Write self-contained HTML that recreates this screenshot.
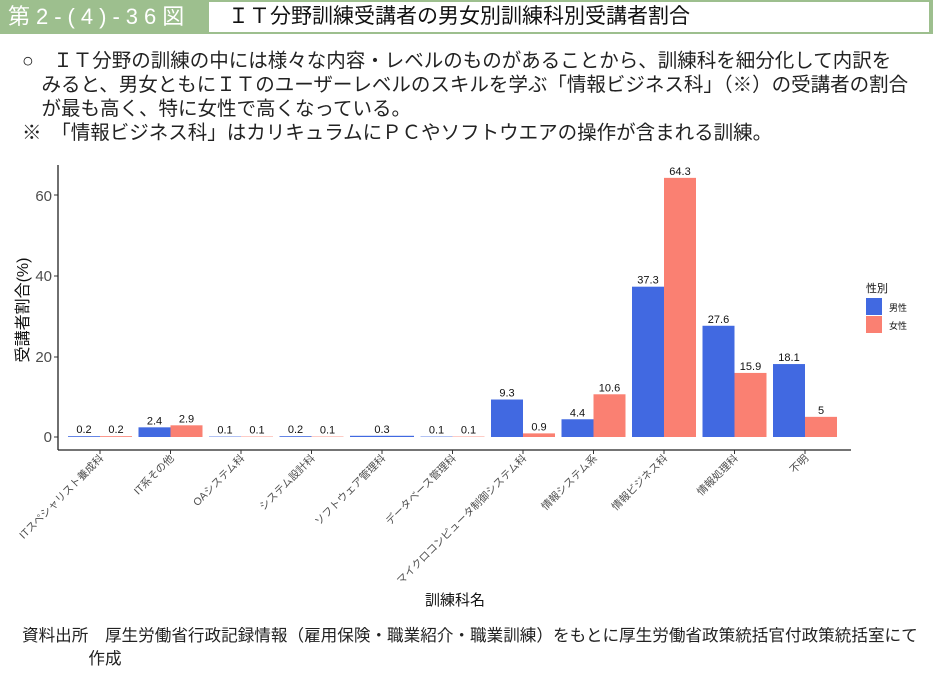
<!DOCTYPE html>
<html><head><meta charset="utf-8"><style>
body{margin:0;width:933px;height:682px;background:#fff;overflow:hidden;font-family:"Liberation Sans","Noto Sans CJK JP",sans-serif;position:relative}
.t{position:absolute;white-space:nowrap;color:#222}
</style></head><body>
<div style="position:absolute;left:0;top:0;width:933px;height:34px;background:#9dbf8e"></div>
<div class="t" style="left:8px;top:3px;font-size:22px;color:#fff;line-height:28px;letter-spacing:6px">第2-(4)-36図</div>
<div style="position:absolute;left:209px;top:2px;width:720px;height:30px;background:#fff"></div>
<div class="t" style="left:228px;top:3px;font-size:21px;line-height:28px;color:#111">ＩＴ分野訓練受講者の男女別訓練科別受講者割合</div>
<div class="t" style="left:22px;top:49px;font-size:19.5px;line-height:24px">○　ＩＴ分野の訓練の中には様々な内容・レベルのものがあることから、訓練科を細分化して内訳を<br>　みると、男女ともにＩＴのユーザーレベルのスキルを学ぶ「情報ビジネス科」（※）の受講者の割合<br>　が最も高く、特に女性で高くなっている。</div>
<div class="t" style="left:22px;top:121px;font-size:19.5px;line-height:24px">※　「情報ビジネス科」はカリキュラムにＰＣやソフトウエアの操作が含まれる訓練。</div>
<svg style="position:absolute;left:0;top:0" width="933" height="682" font-family="Liberation Sans, Noto Sans CJK JP, sans-serif">
<g font-size="15" fill="#4d4d4d" text-anchor="end">
<text x="52" y="442">0</text><text x="52" y="362">20</text><text x="52" y="281">40</text><text x="52" y="201">60</text>
</g>
<g stroke="#333" stroke-width="1"><line x1="54" y1="437" x2="58" y2="437"/><line x1="54" y1="357" x2="58" y2="357"/><line x1="54" y1="276" x2="58" y2="276"/><line x1="54" y1="195" x2="58" y2="195"/></g>
<line x1="58" y1="165" x2="58" y2="450" stroke="#222" stroke-width="1.3"/>
<line x1="58" y1="450" x2="851" y2="450" stroke="#222" stroke-width="1.3"/>
<g id="bars"></g>
<text transform="translate(28,310) rotate(-90)" font-size="16" text-anchor="middle" fill="#111">受講者割合(%)</text>
<text x="455" y="605" font-size="15" text-anchor="middle" fill="#111">訓練科名</text>
<text x="866" y="292" font-size="11" fill="#111">性別</text>
<rect x="866" y="298" width="16" height="17" fill="#4169e1"/>
<rect x="866" y="316" width="16" height="17" fill="#fa8072"/>
<text x="889" y="311" font-size="9" fill="#111">男性</text>
<text x="889" y="329" font-size="9" fill="#111">女性</text>
</svg>
<div class="t" style="left:22px;top:624px;font-size:16.6px;line-height:23px">資料出所　厚生労働省行政記録情報（雇用保険・職業紹介・職業訓練）をもとに厚生労働省政策統括官付政策統括室にて<br>　　　　作成</div>
<script>
var m=[0.2,2.4,0.1,0.2,0.3,0.1,9.3,4.4,37.3,27.6,18.1],f=[0.2,2.9,0.1,0.1,null,0.1,0.9,10.6,64.3,15.9,5];
var n=["ITスペシャリスト養成科","IT系その他","OAシステム科","システム設計科","ソフトウェア管理科","データベース管理科","マイクロコンピュータ制御システム科","情報システム系","情報ビジネス科","情報処理科","不明"];
var s="",Y=function(v){return 437-v*4.03};
for(var i=0;i<11;i++){var c=100+70.5*i;
s+='<line x1="'+c+'" y1="450" x2="'+c+'" y2="454" stroke="#333"/>';
s+='<text transform="translate('+(c+4)+',459) rotate(-45)" text-anchor="end" font-size="10.5" fill="#4d4d4d">'+n[i]+'</text>';
if(f[i]===null){var y=Y(m[i]);s+='<rect x="'+(c-32)+'" y="'+y+'" width="64" height="'+(437-y)+'" fill="#4169e1"/><text x="'+c+'" y="'+(y-3)+'" font-size="11" text-anchor="middle" fill="#111">'+m[i]+'</text>';continue;}
var y1=Y(m[i]),y2=Y(f[i]);
s+='<rect x="'+(c-32)+'" y="'+y1+'" width="32" height="'+(437-y1)+'" fill="#4169e1"/>';
s+='<rect x="'+c+'" y="'+y2+'" width="32" height="'+(437-y2)+'" fill="#fa8072"/>';
s+='<text x="'+(c-16)+'" y="'+(y1-3)+'" font-size="11" text-anchor="middle" fill="#111">'+m[i]+'</text>';
s+='<text x="'+(c+16)+'" y="'+(y2-3)+'" font-size="11" text-anchor="middle" fill="#111">'+f[i]+'</text>';}
document.getElementById("bars").innerHTML=s;
</script>
</body></html>
